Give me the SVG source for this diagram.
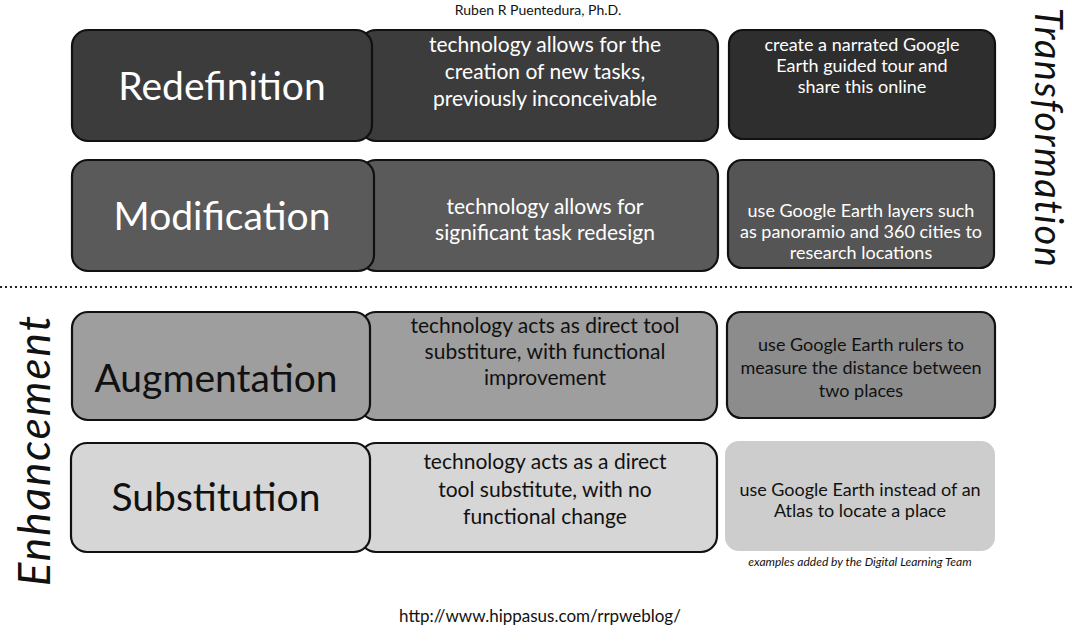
<svg xmlns="http://www.w3.org/2000/svg" width="1072" height="644" viewBox="0 0 1072 644">
  <style>
    .box { stroke: #111; stroke-width: 2.2; }
    .lvl { font-family: Lato, "Noto Sans", sans-serif; font-size: 39px; text-anchor: middle; }
    .desc { font-family: Lato, "Noto Sans", sans-serif; font-size: 21px; text-anchor: middle; }
    .ex { font-family: Lato, "Noto Sans", sans-serif; font-size: 18px; text-anchor: middle; }
    .light { fill: #ffffff; }
    .dark { fill: #111111; }
    .side { font-family: Lato, "Noto Sans", sans-serif; font-style: italic; fill: #111; text-anchor: middle; }
    .small { font-family: Lato, "Noto Sans", sans-serif; fill: #111; text-anchor: middle; }
  </style>

  <rect width="1072" height="644" fill="#ffffff"/>

  <!-- author line -->
  <text class="small" x="538" y="15" font-size="14">Ruben R Puentedura, Ph.D.</text>

  <!-- level: Redefinition -->
  <g id="redefinition">
    <rect class="box" x="360" y="30" width="358" height="111" rx="16" fill="#3c3c3c"/>
    <rect class="box" x="72" y="30" width="300" height="111" rx="16" fill="#3c3c3c"/>
    <text class="lvl light" x="222" y="100">Redefinition</text>
    <text class="desc light" x="545" y="52">technology allows for the</text>
    <text class="desc light" x="545" y="79">creation of new tasks,</text>
    <text class="desc light" x="545" y="106">previously inconceivable</text>
    <rect class="box" x="729" y="30" width="266" height="109" rx="14" fill="#2e2e2e"/>
    <text class="ex light" x="862" y="51">create a narrated Google</text>
    <text class="ex light" x="862" y="72">Earth guided tour and</text>
    <text class="ex light" x="862" y="93">share this online</text>
  </g>

  <!-- level: Modification -->
  <g id="modification">
    <rect class="box" x="360" y="160" width="358" height="111" rx="16" fill="#5a5a5a"/>
    <rect class="box" x="72" y="160" width="302" height="111" rx="16" fill="#5a5a5a"/>
    <text class="lvl light" x="222" y="230">Modification</text>
    <text class="desc light" x="545" y="214">technology allows for</text>
    <text class="desc light" x="545" y="240">significant task redesign</text>
    <rect class="box" x="728" y="160" width="266" height="108" rx="14" fill="#555555"/>
    <text class="ex light" x="861" y="217">use Google Earth layers such</text>
    <text class="ex light" x="861" y="238">as panoramio and 360 cities to</text>
    <text class="ex light" x="861" y="259">research locations</text>
  </g>

  <!-- boundary between the two stages -->
  <line x1="0" y1="287" x2="1072" y2="287" stroke="#222" stroke-width="2" stroke-dasharray="2 3"/>

  <!-- level: Augmentation -->
  <g id="augmentation">
    <rect class="box" x="360" y="312" width="357" height="108" rx="16" fill="#9e9e9e"/>
    <rect class="box" x="72" y="312" width="298" height="108" rx="16" fill="#9e9e9e"/>
    <text class="lvl dark" x="216" y="392">Augmentation</text>
    <text class="desc dark" x="545" y="333">technology acts as direct tool</text>
    <text class="desc dark" x="545" y="359">substiture, with functional</text>
    <text class="desc dark" x="545" y="385">improvement</text>
    <rect class="box" x="727" y="312" width="268" height="106" rx="14" fill="#8c8c8c"/>
    <text class="ex dark" x="861" y="351">use Google Earth rulers to</text>
    <text class="ex dark" x="861" y="374">measure the distance between</text>
    <text class="ex dark" x="861" y="397">two places</text>
  </g>

  <!-- level: Substitution -->
  <g id="substitution">
    <rect class="box" x="360" y="443" width="357" height="109" rx="16" fill="#d6d6d6"/>
    <rect class="box" x="71" y="443" width="299" height="109" rx="16" fill="#d6d6d6"/>
    <text class="lvl dark" x="216" y="511">Substitution</text>
    <text class="desc dark" x="545" y="469">technology acts as a direct</text>
    <text class="desc dark" x="545" y="497">tool substitute, with no</text>
    <text class="desc dark" x="545" y="524">functional change</text>
    <rect x="725" y="441" width="270" height="110" rx="14" fill="#cdcdcd"/>
    <text class="ex dark" x="860" y="496">use Google Earth instead of an</text>
    <text class="ex dark" x="860" y="517">Atlas to locate a place</text>
  </g>

  <!-- stage labels -->
  <text class="side" font-size="38" letter-spacing="1.5" transform="translate(1035 138) rotate(90)">Transformation</text>
  <text class="side" font-size="44" letter-spacing="2" transform="translate(50 450) rotate(-90)">Enhancement</text>

  <!-- footnotes -->
  <text class="small" font-style="italic" font-size="12" x="860" y="566">examples added by the Digital Learning Team</text>
  <text class="small" x="540" y="622" font-size="17">http://www.hippasus.com/rrpweblog/</text>
</svg>
